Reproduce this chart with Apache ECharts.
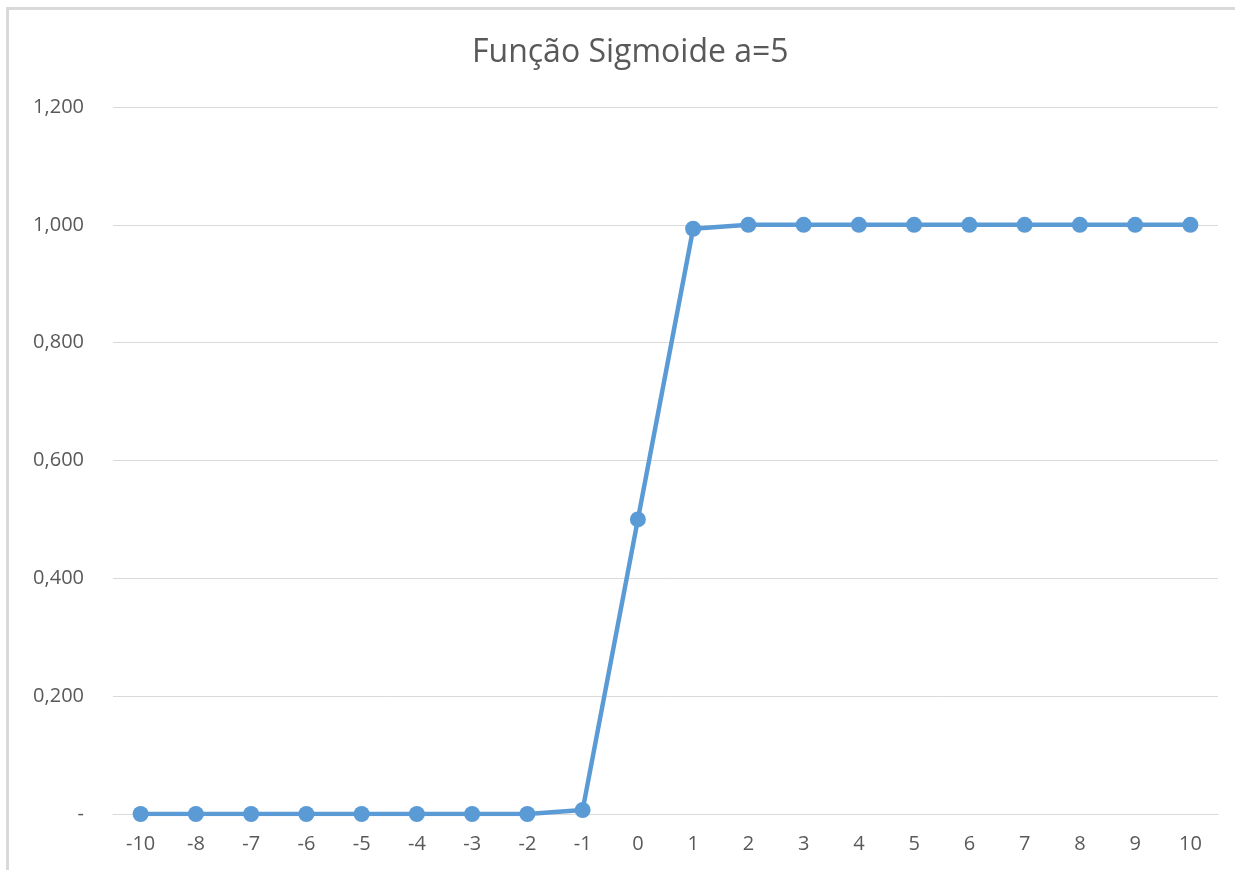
<!DOCTYPE html>
<html>
<head>
<meta charset="utf-8">
<script src="https://cdn.jsdelivr.net/npm/echarts@6/dist/echarts.min.js"></script>
<style>
  html, body { margin: 0; padding: 0; background: #fff; }
  #frame { position: absolute; left: 6px; top: 7px; width: 1229px; height: 863px;
           border-top: 3px solid #d9d9d9; border-left: 3px solid #d9d9d9; box-sizing: border-box; }
  #chart { position: absolute; left: 0; top: 0; width: 1235px; height: 870px; }
</style>
</head>
<body>
<div id="frame"></div>
<div id="chart"></div>
<script>
// x values of the sampled sigmoid (a = 5)
const categories = ['-10', '-8', '-7', '-6', '-5', '-4', '-3', '-2', '-1', '0', '1', '2', '3', '4', '5', '6', '7', '8', '9', '10'];
// sigmoid output at each x
const values = [0.0000, 0.0000, 0.0000, 0.0000, 0.0000, 0.0000, 0.0000, 0.00005, 0.0067, 0.5000,
                0.9933, 0.99995, 1.0000, 1.0000, 1.0000, 1.0000, 1.0000, 1.0000, 1.0000, 1.0000];
const yTicks = { min: 0, max: 1.2, step: 0.2 };

const font = '"Open Sans", Lato, sans-serif';
const chart = echarts.init(document.getElementById('chart'), null, { renderer: 'canvas' });
chart.setOption({
  backgroundColor: 'transparent',
  animation: false,
  title: {
    text: 'Função Sigmoide a=5',
    left: 467,
    top: 32,
    textStyle: { fontFamily: font, fontSize: 32, fontWeight: 'normal', color: '#595959' }
  },
  grid: { left: 113, right: 17, top: 107, bottom: 56, containLabel: false },
  xAxis: {
    type: 'category',
    data: categories,
    boundaryGap: true,
    axisLine: { show: true, lineStyle: { color: '#d9d9d9', width: 1 } },
    axisTick: { show: false },
    axisLabel: { fontFamily: font, fontSize: 20, color: '#595959', margin: 20 }
  },
  yAxis: {
    type: 'value',
    min: yTicks.min,
    max: yTicks.max,
    interval: yTicks.step,
    axisLine: { show: false },
    axisTick: { show: false },
    splitLine: { lineStyle: { color: '#d9d9d9', width: 1 } },
    axisLabel: {
      fontFamily: font, fontSize: 20, color: '#595959', margin: 29,
      formatter: v => Math.abs(v) < 1e-9 ? '-' : v.toFixed(3).replace('.', ',')
    }
  },
  series: [{
    type: 'line',
    data: values,
    symbol: 'circle',
    symbolSize: 16,
    lineStyle: { color: '#5b9bd5', width: 4.5 },
    itemStyle: { color: '#5b9bd5' }
  }]
});
</script>
</body>
</html>
